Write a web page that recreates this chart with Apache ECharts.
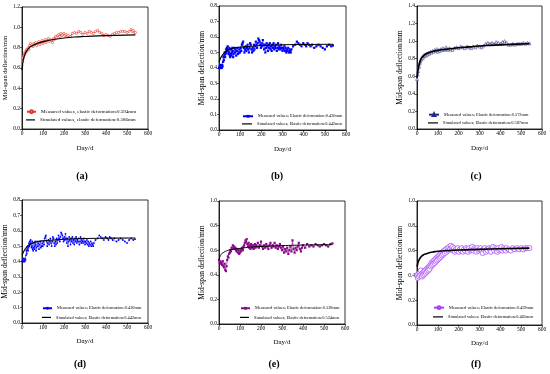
<!DOCTYPE html>
<html><head><meta charset="utf-8">
<script src="https://cdn.jsdelivr.net/npm/echarts@6/dist/echarts.min.js"></script>
<style>html,body{margin:0;padding:0;background:#fff}#c{width:550px;height:374px}</style>
</head><body><div id="c"></div>
<script>
// ---------- DATA ----------
const xTicks = [0,100,200,300,400,500,600];
const measuredA = [[0,0.62],[2,0.66],[4,0.70],[6,0.69],[8,0.72],[10,0.74],[12,0.73],[15,0.76],[18,0.75],[21,0.78],[24,0.77],[27,0.79],[30,0.80],[33,0.78],[36,0.82],[40,0.84],[44,0.82],[48,0.83],[52,0.81],[56,0.84],[60,0.83],[65,0.85],[70,0.82],[75,0.84],[80,0.86],[85,0.83],[90,0.85],[95,0.87],[100,0.84],[105,0.86],[110,0.88],[115,0.85],[120,0.87],[125,0.89],[130,0.86],[135,0.88],[140,0.87],[145,0.85],[150,0.89],[155,0.88],[160,0.91],[165,0.90],[170,0.92],[175,0.93],[180,0.91],[185,0.94],[190,0.92],[195,0.93],[200,0.94],[205,0.92],[210,0.93],[215,0.91],[220,0.92],[230,0.91],[240,0.94],[250,0.95],[260,0.94],[270,0.96],[280,0.95],[290,0.93],[300,0.95],[310,0.94],[320,0.96],[330,0.95],[340,0.94],[350,0.96],[360,0.97],[370,0.95],[380,0.94],[390,0.92],[400,0.93],[410,0.92],[420,0.91],[430,0.93],[440,0.94],[450,0.95],[460,0.95],[470,0.96],[480,0.96],[490,0.96],[500,0.95],[510,0.96],[520,0.98],[525,0.96],[530,0.97],[535,0.95],[540,0.95]];
const simulatedA = [[0,0.58],[3,0.64],[6,0.68],[10,0.71],[15,0.74],[20,0.76],[30,0.79],[40,0.81],[50,0.82],[70,0.84],[100,0.86],[150,0.88],[200,0.895],[250,0.905],[300,0.91],[400,0.918],[540,0.925]];
const measuredB = [[0,0.40],[3,0.41],[5,0.40],[7,0.42],[9,0.40],[11,0.41],[13,0.40],[15,0.42],[17,0.41],[19,0.44],[21,0.47],[23,0.45],[25,0.48],[27,0.50],[29,0.47],[31,0.49],[33,0.52],[35,0.50],[37,0.53],[39,0.51],[41,0.54],[43,0.52],[45,0.49],[47,0.50],[49,0.53],[51,0.48],[53,0.47],[55,0.49],[57,0.52],[59,0.48],[61,0.50],[63,0.53],[65,0.51],[67,0.47],[69,0.49],[72,0.53],[75,0.50],[78,0.52],[81,0.48],[84,0.51],[87,0.53],[90,0.49],[93,0.50],[96,0.52],[99,0.50],[102,0.53],[105,0.51],[108,0.55],[111,0.56],[114,0.57],[117,0.53],[120,0.50],[123,0.52],[126,0.54],[129,0.51],[132,0.53],[135,0.55],[138,0.52],[141,0.50],[144,0.53],[147,0.56],[150,0.55],[153,0.52],[156,0.50],[159,0.53],[162,0.51],[165,0.55],[168,0.52],[171,0.54],[174,0.57],[177,0.55],[180,0.53],[183,0.56],[186,0.59],[189,0.58],[192,0.57],[195,0.55],[198,0.53],[201,0.56],[204,0.54],[207,0.58],[210,0.55],[213,0.52],[216,0.55],[219,0.50],[222,0.53],[225,0.56],[228,0.54],[231,0.51],[234,0.55],[237,0.53],[240,0.56],[243,0.52],[246,0.54],[249,0.51],[252,0.55],[255,0.53],[258,0.56],[261,0.52],[264,0.54],[267,0.53],[270,0.55],[273,0.51],[276,0.53],[279,0.56],[282,0.52],[285,0.54],[288,0.53],[291,0.52],[294,0.55],[297,0.53],[300,0.51],[303,0.53],[306,0.52],[309,0.54],[312,0.51],[315,0.53],[318,0.50],[321,0.52],[324,0.51],[327,0.53],[330,0.50],[333,0.52],[336,0.51],[339,0.50],[342,0.52],[350,0.54],[360,0.55],[368,0.57],[375,0.56],[382,0.55],[390,0.54],[398,0.56],[405,0.55],[412,0.54],[418,0.56],[425,0.55],[432,0.54],[440,0.55],[450,0.53],[460,0.54],[470,0.55],[480,0.54],[490,0.53],[500,0.52],[510,0.54],[520,0.55],[530,0.54],[538,0.545]];
const simulatedB = [[0,0.44],[5,0.455],[10,0.47],[20,0.49],[30,0.505],[50,0.52],[75,0.53],[100,0.535],[150,0.54],[200,0.545],[300,0.55],[400,0.552],[540,0.553]];
const measuredC = [[0,0.57],[3,0.62],[5,0.66],[8,0.70],[10,0.72],[13,0.75],[16,0.77],[19,0.79],[22,0.80],[25,0.82],[28,0.81],[31,0.83],[34,0.84],[37,0.83],[40,0.85],[44,0.84],[48,0.86],[52,0.85],[56,0.87],[60,0.86],[65,0.88],[70,0.87],[75,0.89],[80,0.88],[85,0.90],[90,0.89],[95,0.91],[100,0.88],[105,0.90],[110,0.89],[115,0.91],[120,0.90],[125,0.92],[130,0.90],[135,0.91],[140,0.93],[145,0.91],[150,0.90],[155,0.92],[160,0.91],[170,0.90],[180,0.92],[190,0.93],[200,0.92],[210,0.94],[220,0.93],[230,0.92],[240,0.94],[250,0.93],[260,0.92],[270,0.94],[280,0.93],[290,0.95],[300,0.94],[310,0.93],[320,0.95],[330,0.97],[340,0.98],[350,0.97],[360,0.98],[370,0.97],[380,0.99],[390,0.98],[400,0.97],[410,0.99],[420,1.00],[430,0.98],[440,0.96],[450,0.96],[460,0.97],[470,0.96],[480,0.97],[490,0.97],[500,0.97],[510,0.98],[520,0.97],[530,0.98],[540,0.975]];
const simulatedC = [[0,0.585],[3,0.64],[6,0.69],[10,0.73],[15,0.77],[20,0.80],[30,0.83],[40,0.85],[60,0.87],[80,0.885],[100,0.895],[150,0.91],[200,0.925],[250,0.935],[300,0.945],[350,0.952],[400,0.958],[450,0.963],[540,0.97]];
const measuredD = measuredB;
const simulatedD = simulatedB;
const measuredE = [[0,0.52],[3,0.50],[6,0.51],[9,0.49],[12,0.50],[15,0.48],[18,0.51],[21,0.47],[24,0.46],[27,0.49],[30,0.44],[33,0.43],[36,0.47],[39,0.52],[42,0.55],[45,0.54],[48,0.57],[51,0.58],[54,0.60],[57,0.59],[60,0.62],[63,0.61],[66,0.64],[69,0.62],[72,0.63],[75,0.61],[78,0.62],[81,0.60],[84,0.59],[87,0.61],[90,0.58],[93,0.60],[96,0.57],[99,0.58],[102,0.60],[105,0.59],[108,0.61],[111,0.62],[114,0.60],[117,0.63],[120,0.64],[123,0.66],[126,0.68],[129,0.67],[132,0.69],[135,0.65],[138,0.63],[141,0.66],[144,0.62],[147,0.64],[150,0.61],[153,0.65],[156,0.63],[159,0.62],[162,0.64],[165,0.61],[168,0.63],[171,0.65],[174,0.62],[177,0.64],[180,0.63],[185,0.66],[190,0.62],[195,0.64],[200,0.67],[205,0.63],[210,0.61],[215,0.64],[220,0.62],[225,0.65],[230,0.63],[235,0.61],[240,0.64],[245,0.66],[250,0.62],[255,0.64],[260,0.63],[265,0.66],[270,0.62],[275,0.64],[280,0.61],[285,0.63],[290,0.65],[295,0.62],[300,0.60],[305,0.63],[310,0.58],[315,0.61],[320,0.59],[325,0.62],[330,0.57],[335,0.60],[340,0.63],[345,0.59],[350,0.68],[355,0.61],[360,0.58],[365,0.62],[370,0.60],[375,0.63],[380,0.66],[385,0.61],[390,0.59],[395,0.62],[400,0.64],[410,0.62],[420,0.65],[430,0.63],[440,0.64],[450,0.63],[460,0.65],[470,0.64],[480,0.63],[490,0.64],[500,0.65],[510,0.64],[520,0.63],[530,0.65],[540,0.655]];
const simulatedE = [[0,0.52],[3,0.54],[6,0.555],[10,0.565],[15,0.575],[20,0.58],[30,0.59],[45,0.60],[60,0.605],[80,0.61],[100,0.615],[150,0.625],[200,0.63],[300,0.637],[400,0.642],[540,0.645]];
const measuredF = [[0,0.40],[3,0.38],[6,0.41],[9,0.39],[12,0.42],[15,0.40],[18,0.44],[21,0.41],[24,0.39],[27,0.42],[30,0.40],[33,0.43],[36,0.41],[39,0.44],[42,0.42],[45,0.45],[48,0.43],[51,0.46],[54,0.44],[57,0.47],[60,0.45],[63,0.48],[66,0.47],[69,0.50],[72,0.48],[75,0.51],[78,0.49],[81,0.52],[84,0.50],[87,0.53],[90,0.51],[93,0.54],[96,0.52],[99,0.55],[102,0.53],[105,0.56],[108,0.54],[111,0.57],[114,0.55],[117,0.58],[120,0.56],[123,0.59],[126,0.57],[130,0.60],[134,0.58],[138,0.61],[142,0.59],[146,0.62],[150,0.60],[154,0.63],[158,0.61],[162,0.64],[166,0.62],[170,0.63],[174,0.60],[178,0.62],[182,0.59],[186,0.61],[190,0.60],[195,0.62],[200,0.59],[205,0.61],[210,0.60],[215,0.62],[220,0.59],[225,0.61],[230,0.60],[235,0.62],[240,0.61],[245,0.59],[250,0.62],[255,0.60],[260,0.61],[265,0.63],[270,0.60],[275,0.62],[280,0.61],[285,0.59],[290,0.62],[295,0.60],[300,0.61],[305,0.62],[310,0.60],[315,0.58],[320,0.61],[325,0.62],[330,0.59],[335,0.61],[340,0.60],[345,0.62],[350,0.61],[355,0.59],[360,0.62],[365,0.63],[370,0.60],[375,0.62],[380,0.61],[385,0.59],[390,0.62],[395,0.60],[400,0.61],[405,0.63],[410,0.60],[415,0.62],[420,0.61],[425,0.60],[430,0.62],[440,0.61],[450,0.60],[460,0.62],[470,0.61],[480,0.62],[490,0.61],[500,0.62],[510,0.61],[520,0.62],[530,0.62],[540,0.62]];
const simulatedF = [[0,0.47],[3,0.49],[6,0.51],[10,0.525],[15,0.54],[20,0.55],[30,0.565],[45,0.575],[60,0.583],[80,0.59],[100,0.595],[150,0.60],[200,0.605],[300,0.61],[400,0.615],[540,0.62]];
const yMaxes = [1.2, 0.8, 1.4, 0.8, 1.0, 1.0];
const yIntervals = [0.2, 0.1, 0.2, 0.1, 0.2, 0.2];
const panelLabels = ['(a)','(b)','(c)','(d)','(e)','(f)'];
const measuredNames = [
  'Measured values, elastic deformation:0.594mm',
  'Measured values; Elastic deformation:0.430mm',
  'Measured values; Elastic deformation:0.572mm',
  'Measured values; Elastic deformation:0.430mm\u200b',
  'Measured values; Elastic deformation:0.528mm',
  'Measured values; Elastic deformation:0.459mm'
];
const simulatedNames = [
  'Simulated values, elastic deformation:0.586mm',
  'Simulated values; Elastic deformation:0.442mm',
  'Simulated values; Elastic deformation:0.587mm',
  'Simulated values; Elastic deformation:0.442mm\u200b',
  'Simulated values; Elastic deformation:0.524mm',
  'Simulated values; Elastic deformation:0.465mm'
];
const yName = 'Mid-span deflection/mm';
const xName = 'Day/d';

// ---------- LAYOUT / STYLE ----------
const measured = [measuredA, measuredB, measuredC, measuredD, measuredE, measuredF];
const simulated = [simulatedA, simulatedB, simulatedC, simulatedD, simulatedE, simulatedF];
const grids = [
  {left:22, top:7, width:126, height:122},
  {left:219, top:6, width:127, height:124},
  {left:417, top:6, width:125, height:123},
  {left:22, top:200, width:126, height:123},
  {left:219, top:201, width:126, height:123},
  {left:417, top:201, width:125, height:124}
];
const yNameCfg = [
  {size:6.5, gap:12}, {size:7.5, gap:10}, {size:7.5, gap:12},
  {size:7.5, gap:10}, {size:7.5, gap:10}, {size:7.5, gap:12}
];
const mStyle = [
  {color:'#e8342c', fill:'#fff', symbol:'circle', size:2.2, lw:1.0, bw:0.6},
  {color:'#0000ff', fill:'#0000ff', symbol:'rect', size:2.2, lw:0.4, bw:0},
  {color:'#2a2a80', fill:'#fff', symbol:'triangle', size:3, lw:1.0, bw:0.5},
  {color:'#0000ff', fill:'#0000ff', symbol:'circle', size:1.8, lw:0.4, bw:0},
  {color:'#8b0a8b', fill:'#8b0a8b', symbol:'rect', size:2.2, lw:0.6, bw:0},
  {color:'#a23ff5', fill:'#fff', symbol:'circle', size:5, lw:0.4, bw:0.7}
];
const simW = [1.2, 1.1, 1.6, 1.1, 1.0, 1.6];
// legend: left, centre y of first and second row, font size, icon width
const legendPos = [
  {left:26, y1:111, y2:118, fs:5, iw:9},
  {left:242, y1:116, y2:122.5, fs:4.4, iw:10},
  {left:428, y1:114, y2:121.5, fs:4.4, iw:10},
  {left:42, y1:308, y2:316, fs:4.4, iw:9},
  {left:240, y1:308, y2:316, fs:4.4, iw:9},
  {left:433, y1:307, y2:315.5, fs:4.4, iw:10}
];
const labelPos = [[82,171],[277,171],[476,171],[80,359],[274,359],[476,359]];
const FONT = 'Liberation Serif, Times New Roman, serif';

const option = {
  animation:false, backgroundColor:'#fff',
  grid:[], xAxis:[], yAxis:[], series:[], legend:[], title:[]
};
for (let i=0;i<6;i++){
  option.grid.push(Object.assign({show:true, borderColor:'#000', borderWidth:0.8, backgroundColor:'#fff'}, grids[i]));
  option.xAxis.push({
    type:'value', gridIndex:i, min:xTicks[0], max:xTicks[xTicks.length-1], interval:100,
    name:xName, nameLocation:'middle', nameGap: i<3 ? 16 : 15,
    nameTextStyle:{fontFamily:FONT, fontSize:7, color:'#000'},
    axisLine:{show:true, onZero:false, lineStyle:{color:'#000', width:0.8}},
    axisTick:{show:true, length:2, lineStyle:{color:'#000', width:0.6}},
    axisLabel:{fontFamily:FONT, fontSize:5.5, color:'#000', margin:2},
    splitLine:{show:false}
  });
  option.yAxis.push({
    type:'value', gridIndex:i, min:0, max:yMaxes[i], interval:yIntervals[i],
    name:yName, nameLocation:'middle', nameRotate:90, nameGap:yNameCfg[i].gap,
    nameTextStyle:{fontFamily:FONT, fontSize:yNameCfg[i].size, color:'#000'},
    axisLine:{show:true, onZero:false, lineStyle:{color:'#000', width:0.8}},
    axisTick:{show:true, length:2, lineStyle:{color:'#000', width:0.6}},
    axisLabel:{fontFamily:FONT, fontSize:5.5, color:'#000', margin:2, formatter:v=>v.toFixed(1)},
    splitLine:{show:false}
  });
  const ms = mStyle[i];
  option.series.push({
    type:'line', name:measuredNames[i], xAxisIndex:i, yAxisIndex:i, data:measured[i],
    symbol:ms.symbol, symbolSize:ms.size, showSymbol:true,
    itemStyle:{color:ms.fill, borderColor:ms.color, borderWidth:ms.bw},
    lineStyle:{color:ms.color, width:ms.lw}, z:2
  });
  option.series.push({
    type:'line', name:simulatedNames[i], xAxisIndex:i, yAxisIndex:i, data:simulated[i],
    symbol:'none', smooth:true, itemStyle:{color:'#000'}, lineStyle:{color:'#000', width:simW[i]}, z:3
  });
  const lp = legendPos[i];
  option.legend.push({
    left:lp.left, top:lp.y1-1.75, orient:'vertical', itemWidth:lp.iw, itemHeight:3.5, padding:0,
    data:[measuredNames[i]],
    textStyle:{fontFamily:FONT, fontSize:lp.fs, color:'#000'}
  });
  option.legend.push({
    left:lp.left, top:lp.y2-0.6, orient:'vertical', itemWidth:lp.iw, itemHeight:1.2, padding:0,
    data:[{name:simulatedNames[i], icon:'rect'}],
    textStyle:{fontFamily:FONT, fontSize:lp.fs, color:'#000'}
  });
  option.title.push({
    text:panelLabels[i], left:labelPos[i][0], top:labelPos[i][1], textAlign:'center', padding:0,
    textStyle:{fontFamily:FONT, fontSize:10, fontWeight:'bold', color:'#000'}
  });
}
const chart = echarts.init(document.getElementById('c'), null, {renderer:'canvas'});
chart.setOption(option);
</script></body></html>
